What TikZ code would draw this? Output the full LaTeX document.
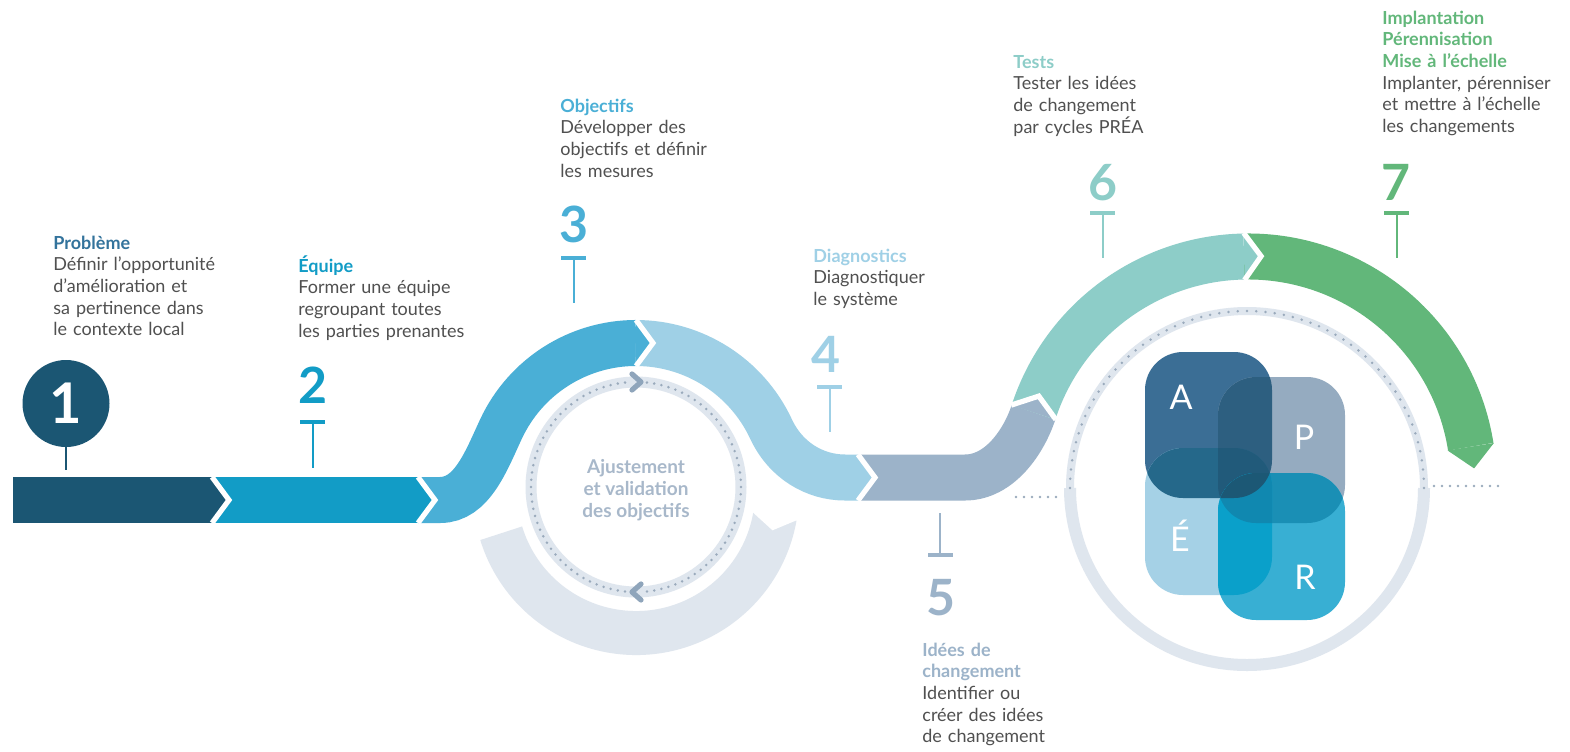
\documentclass[tikz,border=0pt]{standalone}
\usepackage{fontspec}
\setmainfont{Lato}
\usetikzlibrary{calc}

\definecolor{txt}{HTML}{505050}
\definecolor{cOne}{HTML}{1B5673}
\definecolor{cTwo}{HTML}{129CC6}
\definecolor{cThree}{HTML}{4AAFD6}
\definecolor{cFour}{HTML}{9FD0E6}
\definecolor{cFive}{HTML}{9CB3C9}
\definecolor{cSix}{HTML}{8DCDC8}
\definecolor{cSeven}{HTML}{62B77A}
\definecolor{ttlOne}{HTML}{33739C}
\definecolor{back}{HTML}{DFE6EE}
\definecolor{dotc}{HTML}{9AAABC}
\definecolor{markc}{HTML}{8FA5BB}
\definecolor{ajust}{HTML}{A8B8CA}
\definecolor{tileA}{HTML}{3B6E95}
\definecolor{tileP}{HTML}{95ABC0}
\definecolor{tileE}{HTML}{A5D1E6}
\definecolor{tileR}{HTML}{38AFD3}
\definecolor{tileAP}{HTML}{2D5F80}
\definecolor{tileAE}{HTML}{25688A}
\definecolor{tileAPE}{HTML}{215A7A}
\definecolor{tileAPER}{HTML}{1C5875}
\definecolor{tilePR}{HTML}{1A8FB5}
\definecolor{tileER}{HTML}{0AA0CA}
\definecolor{tilePER}{HTML}{1088B0}

\begin{document}
\begin{tikzpicture}[x=0.5pt, y=-0.5pt,
  band/.style={line width=23pt},
  sep/.style={white, line width=2.6pt, line join=miter},
  stem/.style={line width=1pt},
  bar/.style={line width=2.2pt},
  num/.style={anchor=base, inner sep=0pt, font=\fontsize{25}{25}\selectfont\bfseries},
  desc/.style={anchor=base west, inner sep=0pt, text width=125pt, align=left,
     text=txt, font=\fontsize{9}{10.85}\selectfont},
  tile/.style={rounded corners=19pt},
  letter/.style={white, inner sep=0pt, font=\fontsize{17}{17}\selectfont}]
   \useasboundingbox (0,0) rectangle (1570,751);
   \fill [white] (0,0) rectangle (1570,751);

   % return arc under the first loop
   \draw [back,line width=22pt] (774.9,516.5) arc[start angle=10, end angle=163, radius=141];
   \fill [white] (753.2,512.7) -- (772.5,530.3) -- (796.5,520.3) -- (798,510) -- (752,505) -- cycle;

   % dotted ring with markers
   \draw [back,line width=5.5pt] (636,487) circle[radius=105];
   \foreach \a in {-84,-80,...,84,96,100,...,264}
      \fill [dotc] ($(636,487)+(\a:105)$) circle[radius=1.4];
   \draw [markc,line width=2.6pt,line cap=round,line join=round]
      (632,374) -- (641,382) -- (632,390);
   \draw [markc,line width=2.6pt,line cap=round,line join=round]
      (641,584) -- (632,592) -- (641,600);
   \node [font=\fontsize{9.5}{10.85}\selectfont\bfseries, text=ajust, align=center]
      (ajust) at (636,490) {Ajustement\\et validation\\des objectifs};

   % ring around the PREA cycle
   \draw [back,line width=6pt] ($(1247,488)+(0:177)$) arc[start angle=0, end angle=180, radius=177];
   \draw [back,line width=4pt] ($(1247,488)+(0:177)$) arc[start angle=0, end angle=-180, radius=177];
   \foreach \a in {-180,-177,...,0}
      \fill [dotc] ($(1247,488)+(\a:177)$) circle[radius=1.4];
   \foreach \x in {1016,1024,...,1060}
      \fill [dotc] (\x,497) circle[radius=1.4];
   \foreach \x in {1434,1442,...,1498}
      \fill [dotc] (\x,486) circle[radius=1.4];

   % the band
   \draw [band,cOne] (13,500) -- (212,500);
   \draw [band,cTwo] (212,500) -- (418,500);
   \draw [band,cThree] (418,500) -- (440,500)
      .. controls (472,500) and (486.2,460.7) .. (501,429)
      arc[start angle=-155, end angle=-90, radius=149];
   \draw [band,cFour] (636,343) arc[start angle=-90, end angle=-25, radius=149]
      .. controls (785.8,460.7) and (815,477.5) .. (845,477.5) -- (858,477.5);
   \draw [band,cFive] (858,477.5) -- (965,477.5)
      .. controls (1000,477.5) and (1024.2,440.8) .. (1033.5,412.3);
   \draw [band,cSix] (1033.5,412.3) arc[start angle=-162, end angle=-91, radius=225.5];
   \draw [band,cSeven] (1244.1,256.5) arc[start angle=-91, end angle=-9, radius=225.5];

   % arrow tips between the steps
   \fill [cOne] (212,477) -- (229,500) -- (212,523) -- cycle;
   \fill [cTwo] (418,477) -- (435,500) -- (418,523) -- cycle;
   \fill [cThree] (636,320) -- (653,343) -- (636,366) -- cycle;
   \fill [cFour] (858,454.5) -- (875,477.5) -- (858,500.5) -- cycle;
   \fill [cFive] (1011.2,405.1) -- (1038.8,396.1) -- (1055.9,419.6) -- cycle;
   \fill [cSix] (1243.7,233) -- (1261.1,256.2) -- (1244.5,280) -- cycle;
   \fill [cSeven] (1493.9,443) -- (1474.1,468.4) -- (1447.5,450.4) -- cycle;
   \draw [sep] (212,477) -- (229,500) -- (212,523);
   \draw [sep] (418,477) -- (435,500) -- (418,523);
   \draw [sep] (636,320) -- (653,343) -- (636,366);
   \draw [sep] (858,454.5) -- (875,477.5) -- (858,500.5);
   \draw [sep] (1011.2,405.1) -- (1038.8,396.1) -- (1055.9,419.6);
   \draw [sep] (1243.7,233) -- (1261.1,256.2) -- (1244.5,280);

   % PREA tiles
   \def\tA{(1145,352) rectangle (1272,498)}
   \def\tP{(1218,377) rectangle (1345,523)}
   \def\tE{(1145,448) rectangle (1272,595)}
   \def\tR{(1218,473) rectangle (1345,620)}
   \fill [tile,tileA] \tA;
   \fill [tile,tileP] \tP;
   \fill [tile,tileE] \tE;
   \fill [tile,tileR] \tR;
   \begin{scope}
      \clip [tile] \tA;
      \fill [tile,tileAP] \tP;
      \fill [tile,tileAE] \tE;
      \clip [tile] \tP;
      \fill [tile,tileAPE] \tE;
   \end{scope}
   \begin{scope}
      \clip [tile] \tR;
      \fill [tile,tilePR] \tP;
      \fill [tile,tileER] \tE;
      \clip [tile] \tP;
      \fill [tile,tilePER] \tE;
      \clip [tile] \tA;
      \fill [tile,tileAPER] \tE;
   \end{scope}
   \node [letter] (la) at (1181,397) {A};
   \node [letter] (lp) at (1304,437) {P};
   \node [letter] (le) at (1180,536) {É};
   \node [letter] (lr) at (1305,577) {R};

   % step 1
   \fill [cOne] (66,403.5) circle[radius=43.5];
   \node [num,white,font=\fontsize{28}{28}\selectfont\bfseries] (n1) at (66,423) {1};
   \draw [stem,cOne] (66,447) -- (66,470);

   % numbers and markers
   \node [num,text=cTwo] (n2) at (313,403) {2};
   \draw [bar,cTwo] (300,422) -- (325,422);
   \draw [stem,cTwo] (312.5,422) -- (312.5,468);

   \node [num,text=cThree] (n3) at (574,242) {3};
   \draw [bar,cThree] (561,258) -- (586,258);
   \draw [stem,cThree] (573.5,258) -- (573.5,303);

   \node [num,text=cFour] (n4) at (826,372) {4};
   \draw [bar,cFour] (817,387) -- (842,387);
   \draw [stem,cFour] (829.5,387) -- (829.5,432);

   \node [num,text=cFive] (n5) at (941,615) {5};
   \draw [stem,cFive] (940,513) -- (940,555);
   \draw [bar,cFive] (928,555) -- (953,555);

   \node [num,text=cSix] (n6) at (1103,200) {6};
   \draw [bar,cSix] (1090,213) -- (1115,213);
   \draw [stem,cSix] (1102.5,213) -- (1102.5,258);

   \node [num,text=cSeven] (n7) at (1396,200) {7};
   \draw [bar,cSeven] (1384,213) -- (1409,213);
   \draw [stem,cSeven] (1396.5,213) -- (1396.5,258);

   % texts
   \node [desc] (t1) at (53,249) {{\bfseries\color{ttlOne}Problème}\\
      Définir l’opportunité\\d’amélioration et\\sa pertinence dans\\le contexte local};
   \node [desc] (t2) at (298,272) {{\bfseries\color{cTwo}Équipe}\\
      Former une équipe\\regroupant toutes\\les parties prenantes};
   \node [desc] (t3) at (560,112) {{\bfseries\color{cThree}Objectifs}\\
      Développer des\\objectifs et définir\\les mesures};
   \node [desc] (t4) at (813,262) {{\bfseries\color{cFour}Diagnostics}\\
      Diagnostiquer\\le système};
   \node [desc] (t5) at (922,656) {{\bfseries\color{cFive}Idées de}\\
      {\bfseries\color{cFive}changement}\\Identifier ou\\créer des idées\\de changement};
   \node [desc] (t6) at (1013,68) {{\bfseries\color{cSix}Tests}\\
      Tester les idées\\de changement\\par cycles PRÉA};
   \node [desc] (t7) at (1382,24) {{\bfseries\color{cSeven}Implantation}\\
      {\bfseries\color{cSeven}Pérennisation}\\{\bfseries\color{cSeven}Mise à l’échelle}\\
      Implanter, pérenniser\\et mettre à l’échelle\\les changements};
\end{tikzpicture}
\end{document}
